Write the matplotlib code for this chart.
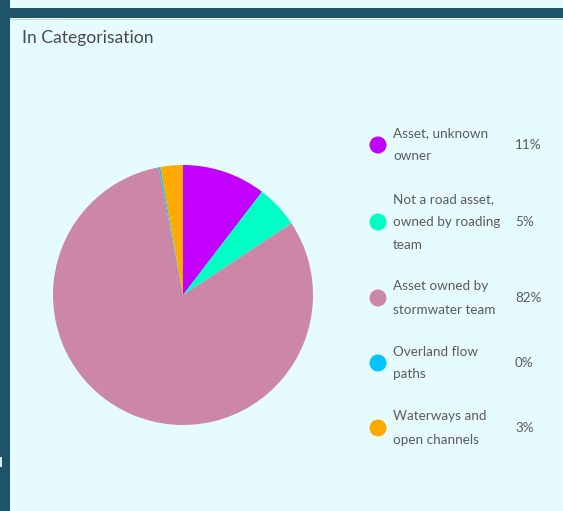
import matplotlib
matplotlib.use("Agg")
import matplotlib.pyplot as plt
from matplotlib.patches import Rectangle

# slice shares (percent)
categories = ["Asset, unknown\nowner",
              "Not a road asset,\nowned by roading\nteam",
              "Asset owned by\nstormwater team",
              "Overland flow\npaths",
              "Waterways and\nopen channels"]
values = [10.4, 5.3, 81.3, 0.2, 2.8]
pct_labels = ["11%", "5%", "82%", "0%", "3%"]
colors = ["#c300ff", "#00ffc5", "#cc87a7", "#00c5ff", "#ffaa00"]
title = "In Categorisation"

W, H = 563, 511
BG = "#e6fbfe"
FRAME = "#1f5369"
TXT = "#5b5b5b"

plt.rcParams['font.family'] = ['Lato', 'DejaVu Sans']

fig = plt.figure(figsize=(W / 100, H / 100), dpi=100)
fig.patch.set_facecolor(BG)

# overlay in pixel coordinates for frame + legend
ov = fig.add_axes([0, 0, 1, 1])
ov.set_xlim(0, W)
ov.set_ylim(H, 0)
ov.axis("off")
ov.add_patch(Rectangle((0, 8), W, 10, color=FRAME, lw=0))
ov.add_patch(Rectangle((0, 0), 10, H, color=FRAME, lw=0))
ov.add_patch(Rectangle((0, 457), 2, 10, color="#dbeef2", lw=0))
ov.plot([10, W], [19, 19], color="#c8d6da", lw=0.8)

ov.text(22, 38, title, fontsize=12.6, color="#4a4a4a", va="center", ha="left")

ys = [145, 222, 298, 363, 428]
ov.scatter([378] * len(ys), ys, s=150, c=colors, zorder=3, linewidths=0)
for y, lab, p in zip(ys, categories, pct_labels):
    ov.text(393, y, lab, fontsize=9.7, color=TXT, va="center", ha="left", linespacing=2.1)
    ov.text(515, y, p, fontsize=9.7, color=TXT, va="center", ha="left")

# pie
cx, cy, r = 183, 295, 130
ax = fig.add_axes([(cx - r) / W, (H - cy - r) / H, 2 * r / W, 2 * r / H])
ax.pie(values, colors=colors, startangle=90, counterclock=False,
       wedgeprops=dict(linewidth=0))
ax.set_xlim(-1, 1)
ax.set_ylim(-1, 1)
ax.axis("off")

fig.savefig("out.png", dpi=100, facecolor=BG)
